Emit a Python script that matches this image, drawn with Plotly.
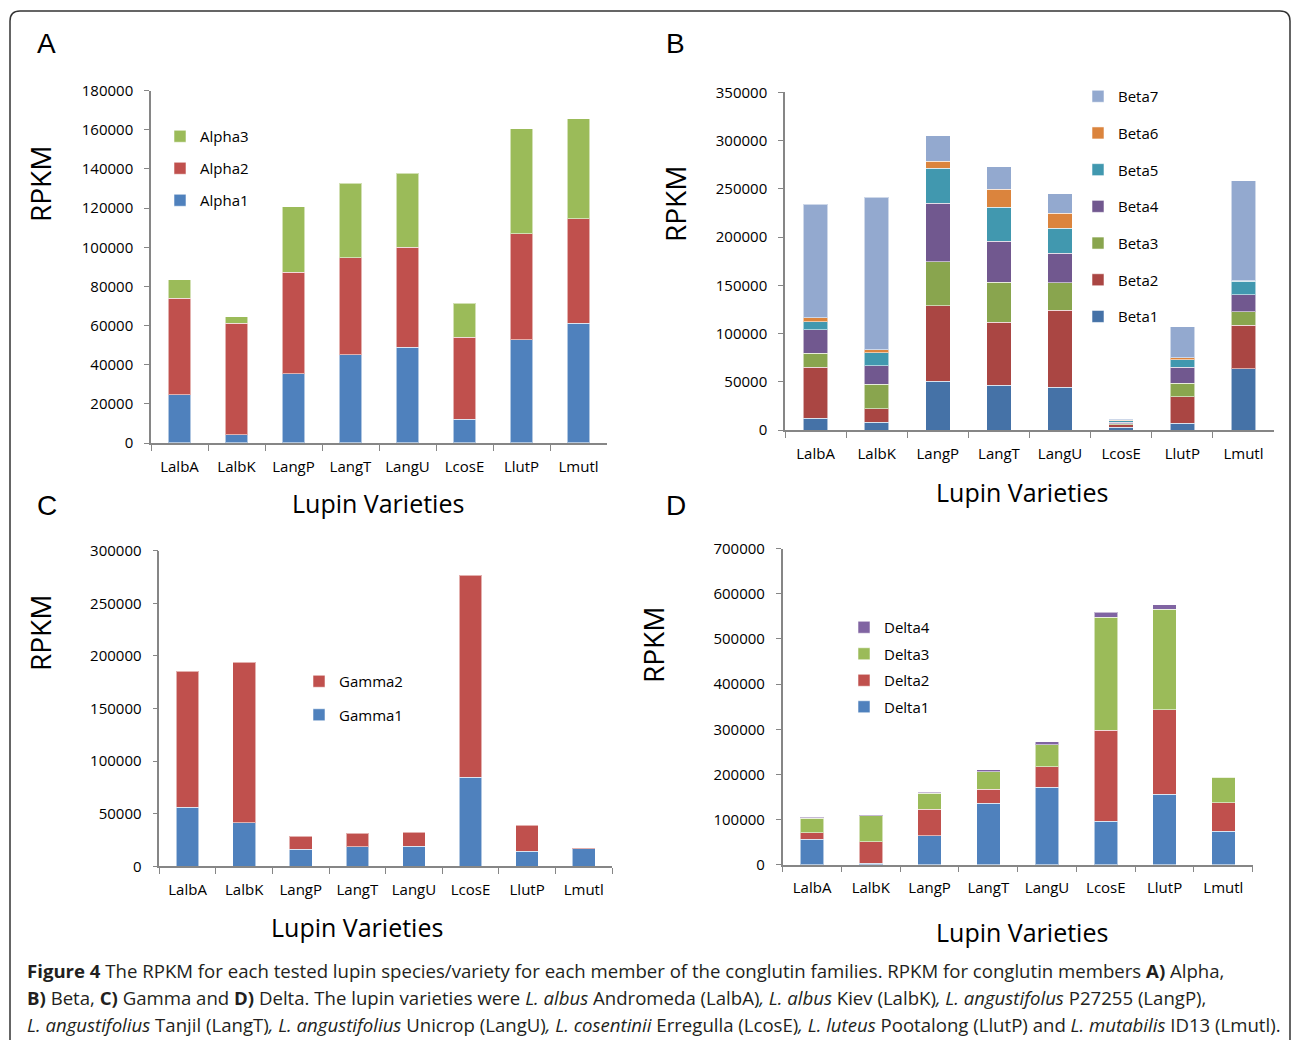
import plotly.graph_objects as go

W, H = 1292, 1040

categories = ["LalbA", "LalbK", "LangP", "LangT", "LangU", "LcosE", "LlutP", "Lmutl"]

# Panel A - Alpha
alpha1 = [24600, 4100, 35500, 45200, 48800, 12100, 52700, 61200]
alpha2 = [49400, 57100, 51700, 49500, 51300, 42000, 54100, 53400]
alpha3 = [9400, 3400, 33600, 38000, 37600, 17400, 53700, 51000]

# Panel B - Beta
beta1 = [12100, 7900, 50700, 46200, 44100, 3100, 7200, 63400]
beta2 = [52700, 14100, 77900, 65500, 80000, 2400, 27300, 45200]
beta3 = [14500, 25200, 45900, 41400, 28600, 1200, 13800, 13800]
beta4 = [24800, 19600, 60700, 42400, 30700, 1400, 16500, 17900]
beta5 = [8300, 13100, 36200, 35200, 25900, 1600, 7900, 14100]
beta6 = [4100, 3400, 7200, 19000, 15200, 500, 2400, 500]
beta7 = [117300, 157900, 26200, 23100, 20300, 1200, 32100, 103300]

# Panel C - Gamma
gamma1 = [56100, 41500, 16200, 18700, 19000, 84600, 14300, 16800]
gamma2 = [129500, 152700, 12600, 12700, 13600, 192300, 24700, 600]

# Panel D - Delta
delta1 = [56100, 3700, 64300, 135900, 172100, 96700, 155800, 74600]
delta2 = [14800, 47300, 58300, 31000, 45000, 201600, 187600, 62800]
delta3 = [31700, 57600, 36200, 39100, 48800, 250400, 223000, 56100]
delta4 = [3000, 700, 1500, 4400, 6700, 10300, 8900, 700]

panels = [
    dict(name="A", xa="x", ya="y", legend="legend",
         series=[("Alpha1", alpha1, "#4F81BD"), ("Alpha2", alpha2, "#C0504D"), ("Alpha3", alpha3, "#9BBB59")],
         xdom=(151, 607), ydom=(90.7, 443), ymax=180000, dtick=20000),
    dict(name="B", xa="x2", ya="y2", legend="legend2",
         series=[("Beta1", beta1, "#4572A7"), ("Beta2", beta2, "#AA4643"), ("Beta3", beta3, "#89A54E"),
                 ("Beta4", beta4, "#71588F"), ("Beta5", beta5, "#4198AF"), ("Beta6", beta6, "#DB843D"),
                 ("Beta7", beta7, "#93A9CF")],
         xdom=(785, 1274), ydom=(92.3, 430), ymax=350000, dtick=50000),
    dict(name="C", xa="x3", ya="y3", legend="legend3",
         series=[("Gamma1", gamma1, "#4F81BD"), ("Gamma2", gamma2, "#C0504D")],
         xdom=(159.3, 612), ydom=(550.7, 866.3), ymax=300000, dtick=50000),
    dict(name="D", xa="x4", ya="y4", legend="legend4",
         series=[("Delta1", delta1, "#4F81BD"), ("Delta2", delta2, "#C0504D"), ("Delta3", delta3, "#9BBB59"),
                 ("Delta4", delta4, "#8064A2")],
         xdom=(782.7, 1252.7), ydom=(548.7, 864.7), ymax=700000, dtick=100000),
]

def px_x(v):
    return v / W

def px_y(v):
    return 1 - v / H

TICK_FONT = dict(family="Open Sans", size=15, color="#000000")
AXIS_COLOR = "#868686"

fig = go.Figure()
layout = dict(
    width=W, height=H, margin=dict(l=0, r=0, t=0, b=0, pad=0, autoexpand=False),
    paper_bgcolor="white", plot_bgcolor="white",
    barmode="stack", bargap=0.6, showlegend=True,
)

for i, p in enumerate(panels):
    n = len(p["series"])
    for k, (name, vals, col) in enumerate(p["series"]):
        fig.add_trace(go.Bar(
            x=categories, y=vals, name=name, xaxis=p["xa"], yaxis=p["ya"],
            marker=dict(color=col, line=dict(color="rgba(255,255,255,0.55)", width=1)),
            legend=p["legend"], legendgroup=name, legendrank=1000 + n - k,
        ))
    sfx = "" if i == 0 else str(i + 1)
    layout["xaxis" + sfx] = dict(
        domain=[px_x(p["xdom"][0]), px_x(p["xdom"][1])], anchor="y" + sfx,
        type="category", showgrid=False, zeroline=False, automargin=False,
        showline=True, linecolor=AXIS_COLOR, linewidth=1.5,
        ticks="outside", tickson="boundaries", ticklen=6, tickwidth=1, tickcolor=AXIS_COLOR,
        tickfont=TICK_FONT, ticklabelstandoff=9, fixedrange=True,
    )
    layout["yaxis" + sfx] = dict(
        domain=[px_y(p["ydom"][1]), px_y(p["ydom"][0])], anchor="x" + sfx,
        range=[0, p["ymax"]], dtick=p["dtick"], tickformat="d",
        showgrid=False, zeroline=False, automargin=False,
        showline=True, linecolor=AXIS_COLOR, linewidth=1.5,
        ticks="outside", ticklen=5, tickwidth=1, tickcolor=AXIS_COLOR,
        tickfont=TICK_FONT, ticklabelstandoff=8, fixedrange=True,
    )

# legends: (text start x px, first item center y px, spacing px)
legend_specs = {
    "legend": (200, 137, 32.5),
    "legend2": (1118, 97, 37.2),
    "legend3": (339, 682, 34),
    "legend4": (884, 628, 27),
}
for key, (tx, ty, sp) in legend_specs.items():
    layout[key] = dict(
        x=px_x(tx - 40), y=px_y(ty - 17), xanchor="left", yanchor="top",
        bgcolor="rgba(0,0,0,0)", borderwidth=0,
        font=dict(family="Open Sans", size=15, color="#000000"),
        traceorder="grouped", tracegroupgap=max(sp - 23, 0),
        itemclick=False, itemdoubleclick=False,
    )

annotations = []
# panel letters
for txt, cx, cy in [("A", 46, 44), ("B", 675, 44), ("C", 47, 505), ("D", 676, 505)]:
    annotations.append(dict(text=txt, x=px_x(cx), y=px_y(cy), xref="paper", yref="paper",
                            showarrow=False, xanchor="center", yanchor="middle",
                            font=dict(family="Liberation Sans", size=28, color="#000000")))
# axis titles
for cx, cy in [(40, 184), (675, 204), (40, 633), (653, 645)]:
    annotations.append(dict(text="RPKM", x=px_x(cx), y=px_y(cy), xref="paper", yref="paper",
                            showarrow=False, textangle=-90, xanchor="center", yanchor="middle",
                            font=dict(family="Open Sans", size=28, color="#000000")))
for cx, cy in [(378, 503), (1022, 492), (357, 927), (1022, 932)]:
    annotations.append(dict(text="Lupin Varieties", x=px_x(cx), y=px_y(cy), xref="paper", yref="paper",
                            showarrow=False, xanchor="center", yanchor="middle",
                            font=dict(family="Open Sans", size=25, color="#000000")))

caption_lines = [
    "<b>Figure 4</b> The RPKM for each tested lupin species/variety for each member of the conglutin families. RPKM for conglutin members <b>A)</b> Alpha,",
    "<b>B)</b> Beta, <b>C)</b> Gamma and <b>D)</b> Delta. The lupin varieties were <i>L. albus</i> Andromeda (LalbA)<i>, L. albus</i> Kiev (LalbK)<i>, L. angustifolus</i> P27255 (LangP),",
    "<i>L. angustifolius</i> Tanjil (LangT)<i>, L. angustifolius</i> Unicrop (LangU)<i>, L. cosentinii</i> Erregulla (LcosE)<i>, L. luteus</i> Pootalong (LlutP) and <i>L. mutabilis</i> ID13 (Lmutl).",
]
for line, cy in zip(caption_lines, [970, 997, 1024]):
    annotations.append(dict(text=line, x=px_x(25), y=px_y(cy), xref="paper", yref="paper",
                            showarrow=False, xanchor="left", yanchor="middle", align="left",
                            font=dict(family="Open Sans", size=18.6, color="#231F20")))
layout["annotations"] = annotations

# rounded outer frame
r = 10
x0, y0, x1, y1 = 10, 11, 1290, 1060
path = (f"M {x0},{y1} L {x0},{y0 + r} Q {x0},{y0} {x0 + r},{y0} "
        f"L {x1 - r},{y0} Q {x1},{y0} {x1},{y0 + r} L {x1},{y1}")
layout["shapes"] = [dict(type="path", xref="paper", yref="paper", path=" ".join(
    [tok if tok.isalpha() else f"{px_x(float(tok.split(',')[0]))},{px_y(float(tok.split(',')[1]))}"
     for tok in path.split()]), line=dict(color="#333333", width=1.5))]

fig.update_layout(**layout)
fig.write_html("out.html", config={"displayModeBar": False},
               post_script="document.body.style.margin='0';")
